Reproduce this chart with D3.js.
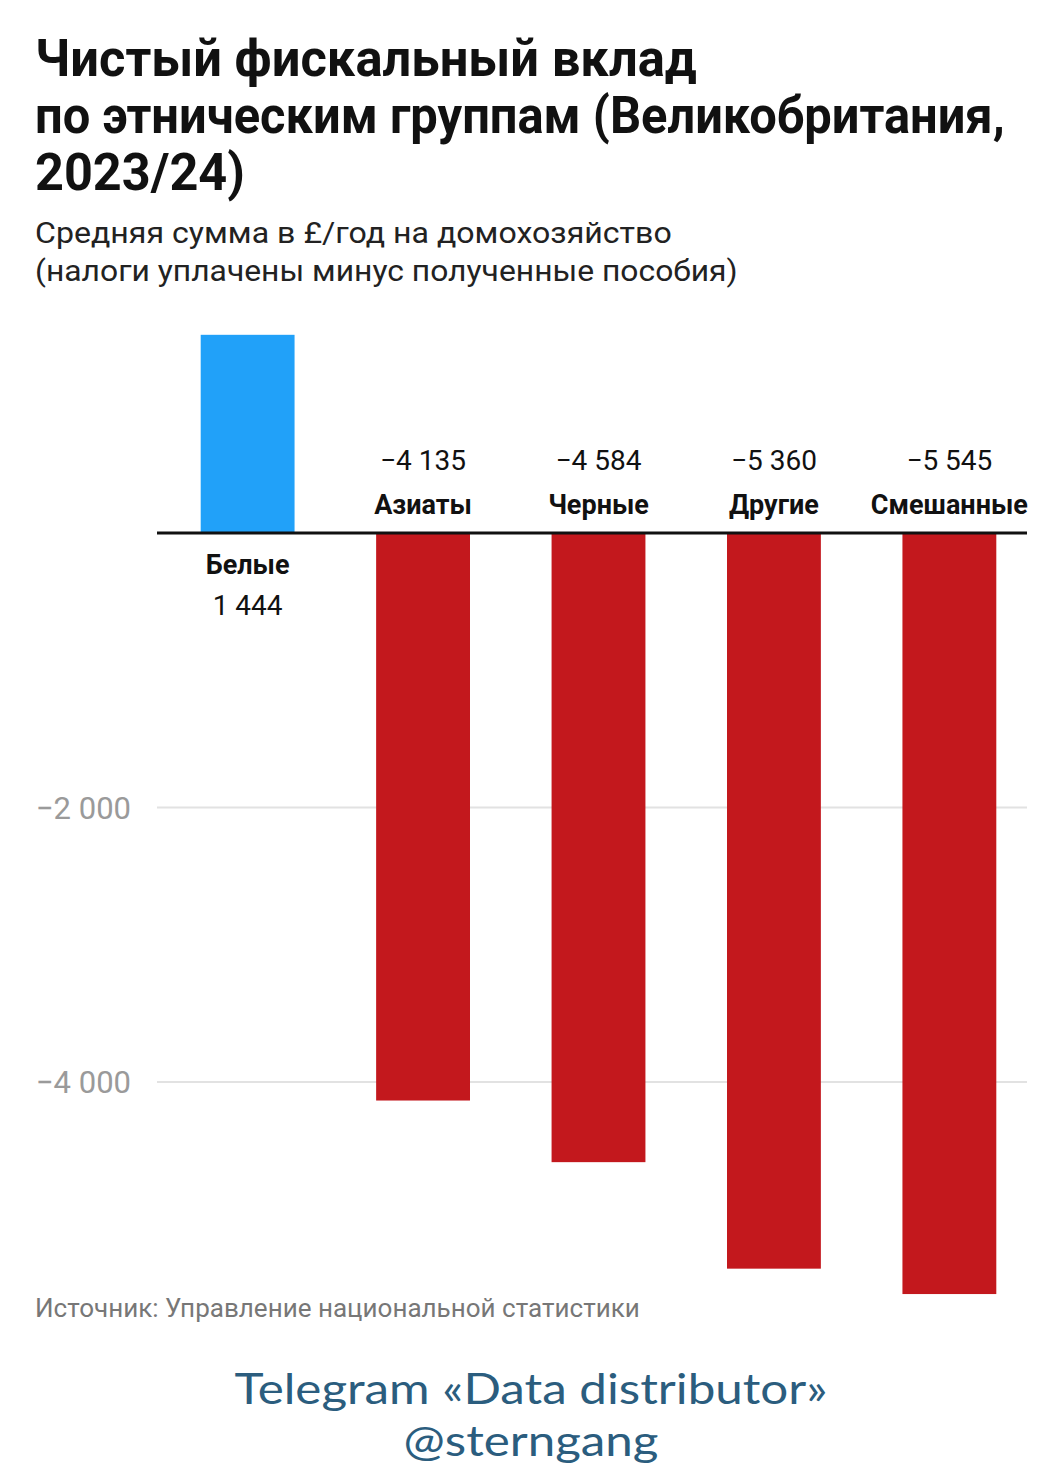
<!DOCTYPE html>
<html>
<head>
<meta charset="utf-8">
<script src="https://cdn.jsdelivr.net/npm/d3@7/dist/d3.min.js"></script>
<style>
  html, body { margin: 0; padding: 0; background: #fff; }
  svg { display: block; font-family: Roboto, "Noto Sans", sans-serif; }
</style>
</head>
<body>
<svg id="chart" width="1063" height="1479"></svg>
<script>
// data
const groups = ['Белые', 'Азиаты', 'Черные', 'Другие', 'Смешанные'];
const values = [1444, -4135, -4584, -5360, -5545];
const yTicks = [-2000, -4000];

const titleLines = [
  'Чистый фискальный вклад',
  'по этническим группам (Великобритания,',
  '2023/24)'
];
const subtitleLines = [
  'Средняя сумма в £/год на домохозяйство',
  '(налоги уплачены минус полученные пособия)'
];
const source = 'Источник: Управление национальной статистики';
const footer = ['Telegram «Data distributor»', '@sterngang'];

const ru = d3.formatLocale({
  decimal: ',', thousands: '\u00a0', grouping: [3], currency: ['', ' £'], minus: '\u2212'
});
const fmt = ru.format(',d');

const svg = d3.select('#chart');

// squeeze/stretch a text horizontally to a target width
function condense(sel, widths, x0) {
  sel.each(function (d, i) {
    const w = this.getComputedTextLength();
    const s = widths[i] / w;
    const yy = +this.getAttribute('y');
    this.setAttribute('y', 0);
    this.setAttribute('transform', `translate(${x0},${yy}) scale(${s},1)`);
  });
}

// title + subtitle
const titleW = [662, 970, 210];
svg.append('g').selectAll('text')
  .data(titleLines)
  .join('text')
  .attr('x', 0)
  .attr('y', (d, i) => 76 + i * 57)
  .attr('font-size', 52)
  .attr('font-weight', 700)
  .attr('fill', '#111')
  .text(d => d)
  .call(condense, titleW, 35);

const subW = [637, 703];
svg.append('g').selectAll('text')
  .data(subtitleLines)
  .join('text')
  .attr('x', 0)
  .attr('y', (d, i) => 243 + i * 38)
  .attr('font-size', 30)
  .attr('fill', '#222')
  .text(d => d)
  .call(condense, subW, 35);

// scales
const x = d3.scaleBand()
  .domain(groups)
  .range([160, 1037])
  .paddingInner(0.465)
  .paddingOuter(0.232);

const y = d3.scaleLinear()
  .domain([0, -4000])
  .range([533, 1082]);

// gridlines + tick labels
const grid = svg.append('g');
grid.selectAll('line')
  .data(yTicks)
  .join('line')
  .attr('x1', 157).attr('x2', 1027)
  .attr('y1', d => y(d)).attr('y2', d => y(d))
  .attr('stroke', '#e2e2e2')
  .attr('stroke-width', 2);
grid.selectAll('text')
  .data(yTicks)
  .join('text')
  .attr('x', 131)
  .attr('y', d => y(d) + 11)
  .attr('text-anchor', 'end')
  .attr('font-size', 31)
  .attr('fill', '#9a9a9a')
  .text(d => fmt(d));

// bars
const data = groups.map((g, i) => ({ group: g, value: values[i] }));

svg.append('g').selectAll('rect')
  .data(data)
  .join('rect')
  .attr('x', d => x(d.group))
  .attr('width', x.bandwidth())
  .attr('y', d => d.value > 0 ? y(d.value) : y(0))
  .attr('height', d => Math.abs(y(d.value) - y(0)))
  .attr('fill', d => d.value > 0 ? '#21a1f9' : '#c3181d');

// zero line
svg.append('line')
  .attr('x1', 157).attr('x2', 1027)
  .attr('y1', y(0)).attr('y2', y(0))
  .attr('stroke', '#111')
  .attr('stroke-width', 3);

// labels: positive bar gets its label below the axis, negatives above
const labels = svg.append('g').attr('text-anchor', 'middle');
data.forEach(d => {
  const cx = x(d.group) + x.bandwidth() / 2;
  if (d.value > 0) {
    labels.append('text')
      .attr('x', cx).attr('y', y(0) + 41)
      .attr('font-size', 27).attr('font-weight', 700).attr('fill', '#111')
      .text(d.group);
    labels.append('text')
      .attr('x', cx).attr('y', y(0) + 82)
      .attr('font-size', 28).attr('fill', '#111')
      .text(fmt(d.value));
  } else {
    labels.append('text')
      .attr('x', cx).attr('y', y(0) - 63)
      .attr('font-size', 28).attr('fill', '#111')
      .text(fmt(d.value));
    labels.append('text')
      .attr('x', cx).attr('y', y(0) - 19)
      .attr('font-size', 27).attr('font-weight', 700).attr('fill', '#111')
      .text(d.group);
  }
});

// source
svg.append('text')
  .attr('x', 0).attr('y', 1317)
  .attr('font-size', 25)
  .attr('fill', '#777')
  .text(source)
  .call(condense, [605], 35);

// footer watermark
svg.append('g').selectAll('text')
  .data(footer)
  .join('text')
  .attr('x', 0)
  .attr('y', (d, i) => 1404 + i * 52)
  .attr('text-anchor', 'middle')
  .attr('font-family', 'Lato, "Open Sans", sans-serif')
  .attr('font-size', 43)
  .attr('fill', '#2b5d7e')
  .text(d => d)
  .call(condense, [593, 255], 531);
</script>
</body>
</html>
